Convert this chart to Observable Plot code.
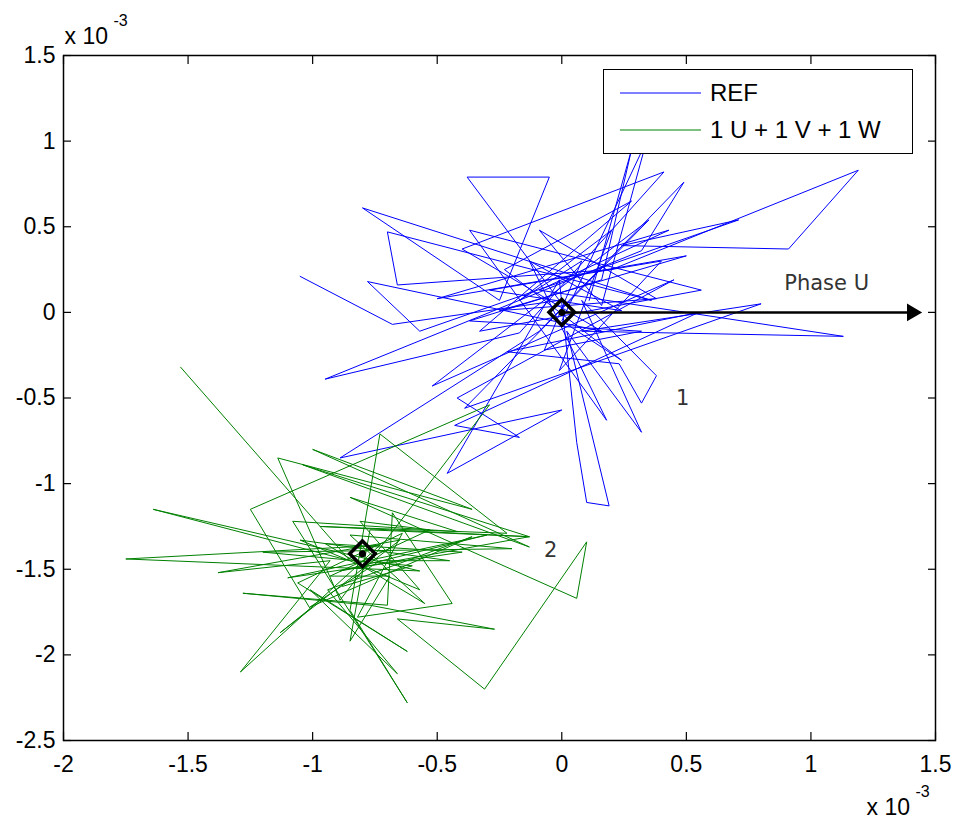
<!DOCTYPE html>
<html>
<head>
<meta charset="utf-8">
<script src="https://cdn.jsdelivr.net/npm/d3@7"></script>
<script src="https://cdn.jsdelivr.net/npm/@observablehq/plot@0.6"></script>
<style>
  body { margin: 0; background: #fff; }
  #wrap { position: relative; width: 955px; height: 820px; font-family: "Liberation Sans", Arial, sans-serif; }
  .legend { position: absolute; left: 603px; top: 69px; width: 310px; height: 85px; box-sizing: border-box;
            border: 1.5px solid #000; background: #fff; }
  .legend .row { position: absolute; left: 0; height: 30px; display: flex; align-items: center; }
  .legend svg { display: block; }
  .legend span { font-size: 24px; color: #000; margin-left: 9px; white-space: nowrap; }
</style>
</head>
<body>
<div id="wrap"></div>
<script>
// values in units of 1e-3
const refX = [-1.05,-0.68,-0.01,-0.38,-0.05,-0.25,-0.80,0.36,-0.70,-0.66,0.20,1.19,0.91,0.24,0.71,-0.57,-0.78,0.16,-0.40,0.41,
  -0.17,-0.95,0.32,0.49,-0.09,-0.89,0.00,-0.46,-0.01,0.06,0.10,0.19,0.02,0.32,0.08,0.38,0.32,0.23,-0.22,0.55,
  -0.43,-0.17,-0.42,0.45,-0.52,0.35,-0.39,0.80,0.08,1.13,-0.09,0.43,-0.50,0.50,-0.25,0.38,-0.09,0.16,0.34,0.00,
  0.24,-0.23,0.28,-0.33,0.56,-0.37,0.18,-0.13,0.24,-0.29,0.40,-0.01,0.20,-0.17,0.08,-0.07,0.32,-0.37,0.16,0.28,0.11];
const refY = [0.21,-0.07,0.07,0.79,0.79,0.07,0.61,0.07,0.47,0.16,0.25,0.83,0.37,0.39,0.54,-0.11,0.18,-0.11,0.37,0.82,
  -0.12,-0.39,0.36,0.76,-0.11,-0.85,-0.57,-0.94,0.19,-0.76,-1.11,-1.13,-0.11,-0.70,0.07,-0.37,-0.53,-0.30,-0.23,0.00,
  -0.66,-0.73,-0.50,0.19,-0.43,0.54,-0.56,0.05,-0.11,-0.14,0.13,0.48,0.08,0.33,0.01,0.08,0.48,0.04,1.00,-0.05,
  -0.28,0.25,0.65,-0.11,0.13,0.48,-0.63,0.30,0.01,0.13,0.30,-0.34,0.48,0.07,0.30,-0.22,-0.11,-0.05,0.19,0.95,0.07];
const sumX = [-1.53,-0.85,-1.64,-0.57,-1.75,-0.73,-1.29,-0.93,-1.38,-0.65,-1.13,-1.01,-1.25,-0.29,-0.89,-1.14,-0.36,-1.00,-0.13,-1.04,
  -0.13,-0.97,-0.22,-0.73,-0.85,-0.62,-1.08,-0.42,-0.85,0.06,0.10,-0.31,-0.66,-0.27,-0.77,-1.28,-0.70,-0.68,-0.44,-0.82,
  -0.64,-1.06,-0.62,-1.01,-0.66,-0.94,-0.36,-1.01,-0.73,-0.45,-1.05,-0.57,-0.81,-0.53,-0.93,-0.69,-0.85,-0.77,-0.13,-0.89,
  -0.30,-1.10,-0.40,-0.95,-0.55,-0.85,-0.20,-1.20,-0.60,-0.88];
const sumY = [-0.32,-1.45,-1.15,-1.51,-1.44,-1.36,-2.10,-1.45,-1.52,-1.33,-1.87,-1.73,-1.15,-0.54,-1.68,-0.85,-1.15,-0.80,-1.37,-0.89,
  -1.31,-1.25,-1.29,-0.71,-1.74,-2.28,-1.22,-1.28,-1.08,-1.67,-1.34,-2.20,-1.79,-1.85,-1.71,-1.64,-1.71,-1.17,-1.70,-1.78,
  -1.29,-1.58,-1.98,-1.62,-2.11,-1.62,-1.31,-1.72,-1.45,-1.45,-1.33,-1.62,-1.22,-1.27,-1.54,-1.54,-1.92,-1.27,-1.31,-1.51,
  -1.30,-1.55,-1.40,-1.35,-1.70,-1.30,-1.38,-1.40,-1.48,-1.60];

const centerX = [0, -0.80];
const centerY = [0, -1.41];
const arrowStart = [0, 0];
const arrowEnd = [1.43, 0];

const annoText = ["Phase U", "1", "2"];
const annoX = [1.063, 0.485, -0.045];
const annoY = [0.169, -0.503, -1.39];

const xTicks = [-2, -1.5, -1, -0.5, 0, 0.5, 1, 1.5];
const yTicks = [-2.5, -2, -1.5, -1, -0.5, 0, 0.5, 1, 1.5];
const seriesNames = ["REF", "1 U + 1 V + 1 W"];
const seriesColors = ["#0000ff", "#008000"];
const expBase = "x 10";
const expPow = "-3";

const refData = refX.map((x, i) => ({x, y: refY[i]}));
const sumData = sumX.map((x, i) => ({x, y: sumY[i]}));
const centers = centerX.map((x, i) => ({x, y: centerY[i]}));
const arrow = [{x1: arrowStart[0], y1: arrowStart[1], x2: arrowEnd[0], y2: arrowEnd[1]}];
const annos = annoText.map((t, i) => ({t, x: annoX[i], y: annoY[i]}));
const fmt = d => String(d);

const plot = Plot.plot({
  width: 955, height: 820,
  marginLeft: 63, marginRight: 20, marginTop: 55, marginBottom: 80,
  x: {domain: [-2, 1.5]},
  y: {domain: [-2.5, 1.5]},
  style: {fontFamily: "Liberation Sans, Arial, sans-serif", fontSize: "23px", color: "#000", background: "#fff", overflow: "visible"},
  marks: [
    Plot.line(refData, {x: "x", y: "y", stroke: seriesColors[0], strokeWidth: 1}),
    Plot.line(sumData, {x: "x", y: "y", stroke: seriesColors[1], strokeWidth: 1}),
    Plot.link(arrow, {x1: "x1", y1: "y1", x2: "x2", y2: "y2", stroke: "#000", strokeWidth: 2.5}),
    Plot.dot(arrow, {x: "x2", y: "y2", symbol: "triangle", rotate: 90, fill: "#000", stroke: "none", r: 6.5, dx: -6}),
    Plot.dot(centers, {x: "x", y: "y", symbol: "square", rotate: 45, r: 10.2, stroke: "#000", strokeWidth: 3.5, fill: "none"}),
    Plot.dot(centers, {x: "x", y: "y", r: 3.5, fill: "#000", stroke: "none"}),
    Plot.text(annos, {x: "x", y: "y", text: "t", fontFamily: "DejaVu Sans, sans-serif", fontSize: 21, fill: "#333"}),
    Plot.frame({stroke: "#000", strokeWidth: 1.5}),
    Plot.axisX({ticks: xTicks, tickSize: -8, tickPadding: 23, tickFormat: fmt, strokeWidth: 1.2}),
    Plot.axisX({anchor: "top", ticks: xTicks, tickSize: -8, tickFormat: () => "", strokeWidth: 1.2}),
    Plot.axisY({ticks: yTicks, tickSize: -8, tickPadding: 16, tickFormat: fmt, strokeWidth: 1.2}),
    Plot.axisY({anchor: "right", ticks: yTicks, tickSize: -8, tickFormat: () => "", strokeWidth: 1.2}),
    Plot.text([expBase], {frameAnchor: "top-left", text: d => d, textAnchor: "start", lineAnchor: "bottom", dx: 1, dy: -12, fontSize: 23}),
    Plot.text([expPow], {frameAnchor: "top-left", text: d => d, textAnchor: "start", lineAnchor: "bottom", dx: 50, dy: -30, fontSize: 16}),
    Plot.text([expBase], {frameAnchor: "bottom-right", text: d => d, textAnchor: "start", lineAnchor: "bottom", dx: -69, dy: 74, fontSize: 23}),
    Plot.text([expPow], {frameAnchor: "bottom-right", text: d => d, textAnchor: "start", lineAnchor: "bottom", dx: -20, dy: 56, fontSize: 16})
  ]
});

const wrap = document.getElementById("wrap");
wrap.appendChild(plot);

const legend = document.createElement("div");
legend.className = "legend";
seriesNames.forEach((name, i) => {
  const row = document.createElement("div");
  row.className = "row";
  row.style.top = (i === 0 ? 8 : 45) + "px";
  row.style.left = "16px";
  row.innerHTML = `<svg width="81" height="4"><line x1="0" y1="2" x2="81" y2="2" stroke="${seriesColors[i]}" stroke-width="1.2"/></svg><span>${name}</span>`;
  legend.appendChild(row);
});
wrap.appendChild(legend);
</script>
</body>
</html>
